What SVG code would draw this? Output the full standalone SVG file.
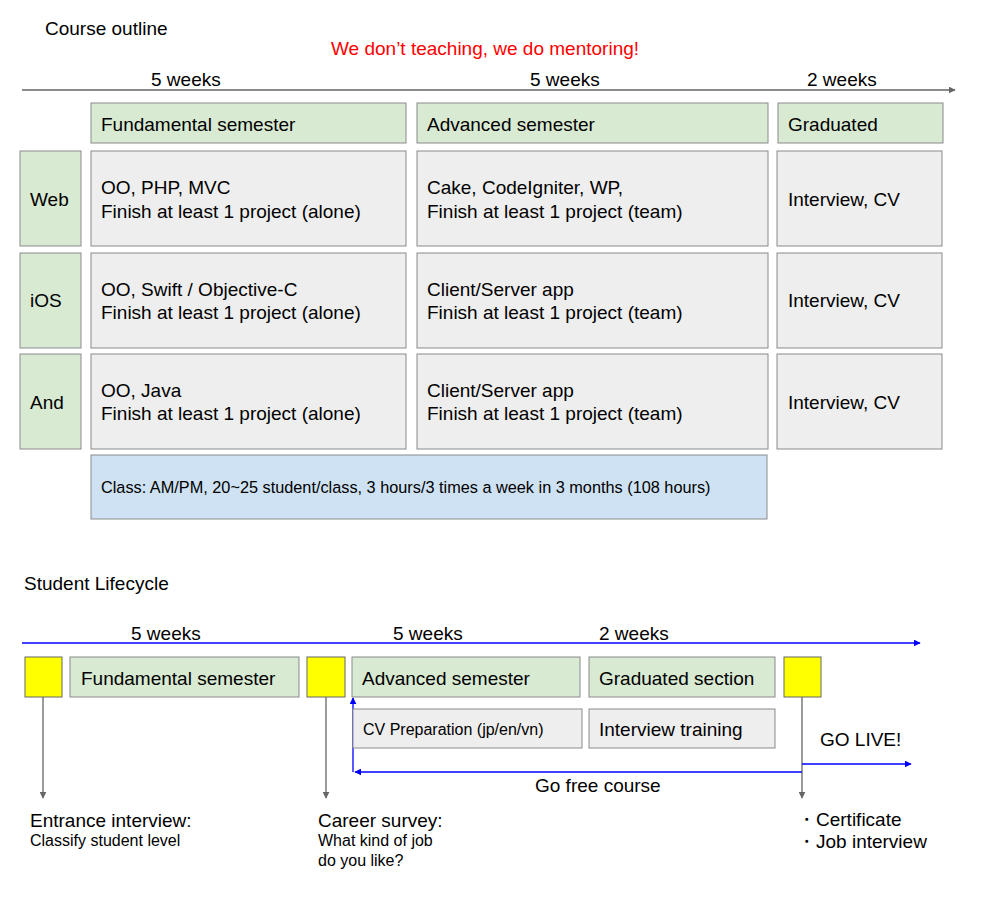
<svg xmlns="http://www.w3.org/2000/svg" width="992" height="903" viewBox="0 0 992 903">
<defs>
<style>
text{font-family:"Liberation Sans",Arial,sans-serif;fill:#000}
.t19{font-size:19px}
.t16{font-size:16px}
.green{fill:#d9ead3;stroke:#8a8a8a;stroke-width:1}
.gray{fill:#eeeeee;stroke:#8a8a8a;stroke-width:1}
.blue{fill:#cfe2f3;stroke:#8a8a8a;stroke-width:1}
.yellow{fill:#ffff00;stroke:#666;stroke-width:1}
.gl{stroke:#666;stroke-width:1.3;fill:none}
.bl{stroke:#0000ff;stroke-width:1.3;fill:none}
</style>
<marker id="ag" viewBox="0 0 10 10" refX="9" refY="5" markerWidth="7" markerHeight="7" markerUnits="userSpaceOnUse" orient="auto"><path d="M0,0L10,5L0,10z" fill="#666"/></marker>
<marker id="ab" viewBox="0 0 10 10" refX="9" refY="5" markerWidth="7" markerHeight="7" markerUnits="userSpaceOnUse" orient="auto"><path d="M0,0L10,5L0,10z" fill="#0000ff"/></marker>
</defs>
<rect width="992" height="903" fill="#fff"/>
<g id="titles">
<text x="45" y="35" class="t19">Course outline</text>
<text x="331" y="55" class="t19" style="fill:#ff0000">We don’t teaching, we do mentoring!</text>
<text x="151" y="86" class="t19">5 weeks</text>
<text x="530" y="86" class="t19">5 weeks</text>
<text x="807" y="86" class="t19">2 weeks</text>
<text x="24" y="590" class="t19">Student Lifecycle</text>
<text x="131" y="640" class="t19">5 weeks</text>
<text x="393" y="640" class="t19">5 weeks</text>
<text x="599" y="640" class="t19">2 weeks</text>
</g>
<g id="connectors">
<line x1="22" y1="90" x2="955" y2="90" class="gl" marker-end="url(#ag)"/>
<line x1="22" y1="643" x2="920" y2="643" class="bl" marker-end="url(#ab)"/>
<line x1="43" y1="697" x2="43" y2="798" class="gl" marker-end="url(#ag)"/>
<line x1="326" y1="697" x2="326" y2="798" class="gl" marker-end="url(#ag)"/>
<line x1="802" y1="697" x2="802" y2="798" class="gl" marker-end="url(#ag)"/>
<line x1="802" y1="772" x2="355" y2="772" class="bl" marker-end="url(#ab)"/>
<line x1="353" y1="772" x2="353" y2="698" class="bl" marker-end="url(#ab)"/>
<line x1="802" y1="764" x2="911" y2="764" class="bl" marker-end="url(#ab)"/>
</g>
<g id="hdr-fund"><rect x="91" y="103" width="315" height="40" class="green"/><text x="101" y="131" class="t19">Fundamental semester</text></g>
<g id="hdr-adv"><rect x="417" y="103" width="351" height="40" class="green"/><text x="427" y="131" class="t19">Advanced semester</text></g>
<g id="hdr-grad"><rect x="778" y="103" width="165" height="40" class="green"/><text x="788" y="131" class="t19">Graduated</text></g>
<g id="row-web">
<rect x="20" y="151" width="61" height="95" class="green"/><text x="30" y="206" class="t19">Web</text>
</g>
<g id="web-fund"><rect x="91" y="151" width="315" height="95" class="gray"/><text x="101" y="194" class="t19">OO, PHP, MVC</text><text x="101" y="218" class="t19">Finish at least 1 project (alone)</text></g>
<g id="web-adv"><rect x="417" y="151" width="351" height="95" class="gray"/><text x="427" y="194" class="t19">Cake, CodeIgniter, WP,</text><text x="427" y="218" class="t19">Finish at least 1 project (team)</text></g>
<g id="web-grad"><rect x="777" y="151" width="165" height="95" class="gray"/><text x="788" y="206" class="t19">Interview, CV</text></g>
<g id="row-ios">
<rect x="20" y="253" width="61" height="95" class="green"/><text x="30" y="307" class="t19">iOS</text>
</g>
<g id="ios-fund"><rect x="91" y="253" width="315" height="95" class="gray"/><text x="101" y="296" class="t19">OO, Swift / Objective-C</text><text x="101" y="319" class="t19">Finish at least 1 project (alone)</text></g>
<g id="ios-adv"><rect x="417" y="253" width="351" height="95" class="gray"/><text x="427" y="296" class="t19">Client/Server app</text><text x="427" y="319" class="t19">Finish at least 1 project (team)</text></g>
<g id="ios-grad"><rect x="777" y="253" width="165" height="95" class="gray"/><text x="788" y="307" class="t19">Interview, CV</text></g>
<g id="row-and">
<rect x="20" y="354" width="61" height="95" class="green"/><text x="30" y="409" class="t19">And</text>
</g>
<g id="and-fund"><rect x="91" y="354" width="315" height="95" class="gray"/><text x="101" y="397" class="t19">OO, Java</text><text x="101" y="420" class="t19">Finish at least 1 project (alone)</text></g>
<g id="and-adv"><rect x="417" y="354" width="351" height="95" class="gray"/><text x="427" y="397" class="t19">Client/Server app</text><text x="427" y="420" class="t19">Finish at least 1 project (team)</text></g>
<g id="and-grad"><rect x="777" y="354" width="165" height="95" class="gray"/><text x="788" y="409" class="t19">Interview, CV</text></g>
<g id="class-info"><rect x="91" y="455" width="676" height="64" class="blue"/><text x="101" y="493" style="font-size:16.3px">Class: AM/PM, 20~25 student/class, 3 hours/3 times a week in 3 months (108 hours)</text></g>
<g id="y1"><rect x="25" y="657" width="37" height="40" class="yellow"/></g>
<g id="lc-fund"><rect x="70" y="657" width="229" height="40" class="green"/><text x="81" y="685" class="t19">Fundamental semester</text></g>
<g id="y2"><rect x="307" y="657" width="38" height="40" class="yellow"/></g>
<g id="lc-adv"><rect x="352" y="657" width="228" height="40" class="green"/><text x="362" y="685" class="t19">Advanced semester</text></g>
<g id="lc-grad"><rect x="589" y="657" width="186" height="40" class="green"/><text x="599" y="685" class="t19">Graduated section</text></g>
<g id="y3"><rect x="784" y="657" width="37" height="40" class="yellow"/></g>
<g id="lc-cv"><rect x="353" y="709" width="229" height="39" class="gray"/><text x="363" y="735" class="t16">CV Preparation (jp/en/vn)</text></g>
<g id="lc-int"><rect x="589" y="709" width="186" height="39" class="gray"/><text x="599" y="736" class="t19">Interview training</text></g>
<g id="notes">
<text x="820" y="746" class="t19">GO LIVE!</text>
<text x="535" y="792" class="t19">Go free course</text>
<text x="30" y="827" class="t19">Entrance interview:</text>
<text x="30" y="846" class="t16">Classify student level</text>
<text x="318" y="827" class="t19">Career survey:</text>
<text x="318" y="846" class="t16">What kind of job</text>
<text x="318" y="866" class="t16">do you like?</text>
<text x="797" y="826" class="t19">・Certificate</text>
<text x="797" y="848" class="t19">・Job interview</text>
</g>
</svg>
